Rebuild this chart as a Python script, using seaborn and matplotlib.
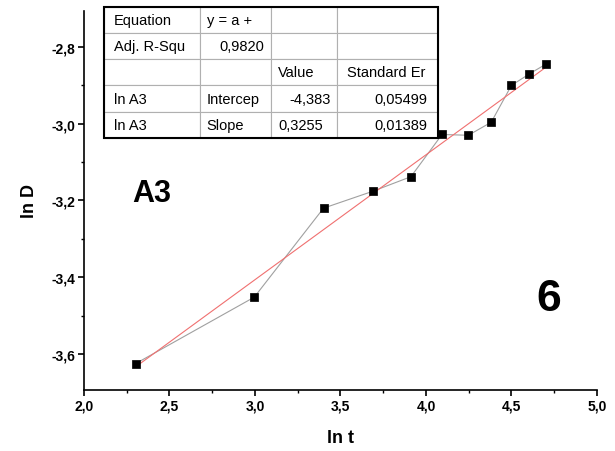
import seaborn as sns
import matplotlib.pyplot as plt
import pandas as pd
from matplotlib.ticker import FuncFormatter, MultipleLocator
from matplotlib.patches import Rectangle

# data
ln_t = [2.303, 2.996, 3.401, 3.689, 3.912, 4.094, 4.248, 4.382, 4.500, 4.605, 4.700]
ln_D = [-3.625, -3.452, -3.220, -3.176, -3.138, -3.028, -3.030, -2.996, -2.900, -2.870, -2.845]
intercept = -4.383
slope = 0.3255

table_rows = [
    ["Equation", "y = a +", "", ""],
    ["Adj. R-Squ", "0,9820", "", ""],
    ["", "", "Value", "Standard Er"],
    ["ln A3", "Intercep", "-4,383", "0,05499"],
    ["ln A3", "Slope", "0,3255", "0,01389"],
]
right_cells = [(1, 1), (3, 2), (3, 3), (4, 3)]

df = pd.DataFrame({"ln_t": ln_t, "ln_D": ln_D})
fit = pd.DataFrame({"ln_t": [ln_t[0], ln_t[-1]]})
fit["ln_D"] = intercept + slope * fit["ln_t"]

sns.set_style("ticks")
plt.rcParams["font.family"] = ["Liberation Sans", "DejaVu Sans"]
plt.rcParams["text.color"] = "black"
plt.rcParams["axes.labelcolor"] = "black"
plt.rcParams["xtick.color"] = "black"
plt.rcParams["ytick.color"] = "black"

fig = plt.figure(figsize=(6.15, 4.52), dpi=100)
ax = fig.add_axes([0.1366, 0.135, 0.834, 0.8385])

sns.lineplot(data=df, x="ln_t", y="ln_D", color="#a0a0a0", lw=0.8, ax=ax, zorder=3)
sns.lineplot(data=fit, x="ln_t", y="ln_D", color="#f07070", lw=0.8, ax=ax, zorder=4)
sns.scatterplot(data=df, x="ln_t", y="ln_D", marker="s", s=40, color="black",
                edgecolor="black", ax=ax, zorder=6)

ax.set_xlim(2.0, 5.0)
ax.set_ylim(-3.694, -2.706)
ax.xaxis.set_major_locator(MultipleLocator(0.5))
ax.xaxis.set_minor_locator(MultipleLocator(0.25))
ax.yaxis.set_major_locator(MultipleLocator(0.2))
ax.yaxis.set_minor_locator(MultipleLocator(0.1))
fmt = FuncFormatter(lambda v, p: f"{v:.1f}".replace(".", ","))
ax.xaxis.set_major_formatter(fmt)
ax.yaxis.set_major_formatter(fmt)
ax.tick_params(which="major", length=4, width=1.2, labelsize=10, pad=2)
ax.tick_params(which="minor", length=2.5, width=1.0)
for lab in ax.get_xticklabels() + ax.get_yticklabels():
    lab.set_fontweight("bold")

sns.despine(ax=ax)
for s in ["left", "bottom"]:
    ax.spines[s].set_linewidth(1.2)
    ax.spines[s].set_color("black")

ax.set_xlabel("ln t", fontsize=13, fontweight="bold", labelpad=12)
ax.set_ylabel("ln D", fontsize=13, fontweight="bold", labelpad=10)

ax.text(2.28, -3.18, "A3", fontsize=22, fontweight="bold", ha="left", va="center")
ax.text(4.72, -3.455, "6", fontsize=32, fontweight="bold", ha="center", va="center")

# fit results table
bbox = [0.039, 0.665, 0.6505, 0.346]
tab = ax.table(cellText=table_rows, colWidths=[96, 72, 66, 101], cellLoc="left",
               bbox=bbox, zorder=5)
tab.auto_set_font_size(False)
tab.set_fontsize(10.5)
for (r, c), cell in tab.get_celld().items():
    cell.set_edgecolor("#b0b0b0")
    cell.set_linewidth(0.8)
    cell.set_facecolor("white")
    cell.get_text().set_color("black")
    if (r, c) in right_cells:
        cell._loc = "right"
        cell.get_text().set_horizontalalignment("right")
ax.add_patch(Rectangle((bbox[0], bbox[1]), bbox[2], bbox[3], transform=ax.transAxes,
                       fill=False, lw=1.5, edgecolor="black", clip_on=False, zorder=5.5))

fig.savefig("out.png", dpi=100)
